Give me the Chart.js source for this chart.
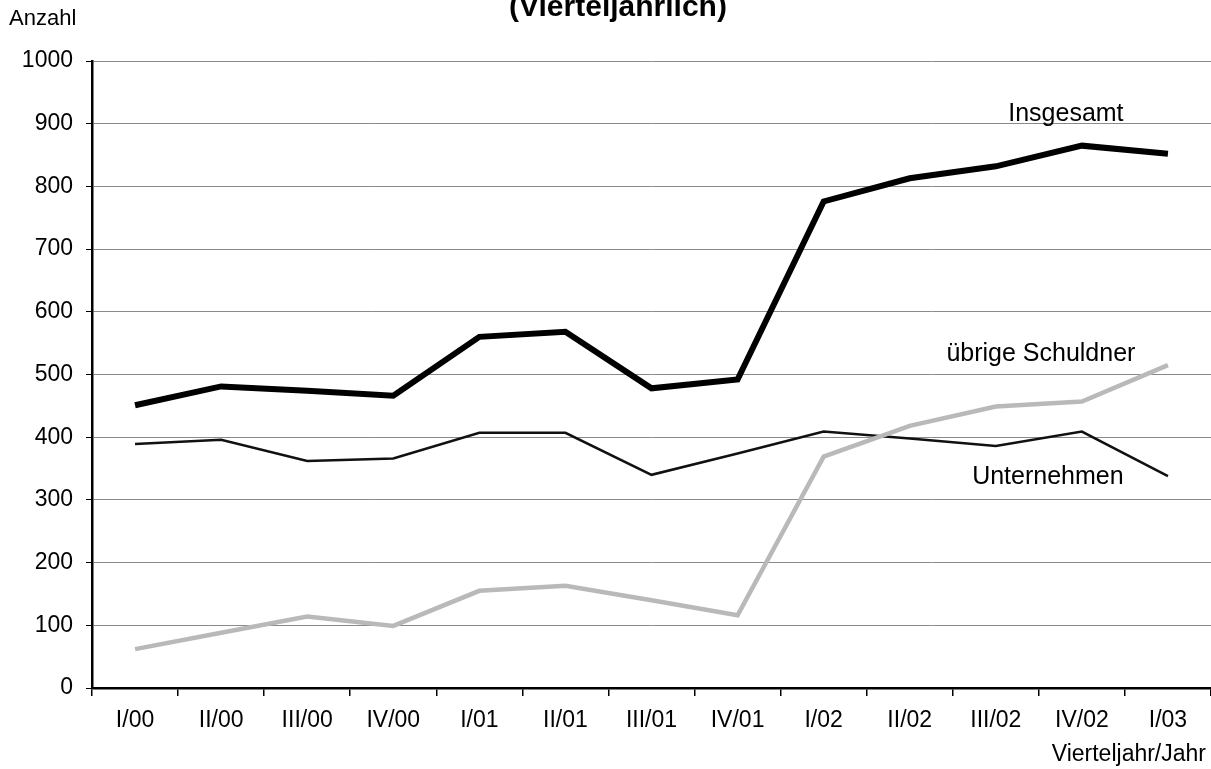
<!DOCTYPE html>
<html>
<head>
<meta charset="utf-8">
<script src="https://cdn.jsdelivr.net/npm/chart.js@4.4.1/dist/chart.umd.min.js"></script>
<style>
	html, body { margin: 0; padding: 0; background: #fff; overflow: hidden; }
	canvas { display: block; }
</style>
</head>
<body>
<canvas id="chart" width="1211" height="769"></canvas>
<script>
// Quartale
const quartale = ['I/00', 'II/00', 'III/00', 'IV/00', 'I/01', 'II/01', 'III/01', 'IV/01', 'I/02', 'II/02', 'III/02', 'IV/02', 'I/03'];

// Anzahl je Quartal
const insgesamt = [451, 481, 474, 466, 560, 568, 478, 492, 776, 813, 832, 865, 852];
const unternehmen = [389, 396, 362, 366, 407, 407, 340, 374, 409, 398, 386, 409, 338];
const uebrigeSchuldner = [62, 88, 114, 99, 155, 163, 140, 116, 369, 418, 449, 457, 515];

const yTicks = [0, 100, 200, 300, 400, 500, 600, 700, 800, 900, 1000];

const FONT = 'Arial, "Liberation Sans", sans-serif';

// Texte (Titel, Achsentitel, Reihenbeschriftungen) direkt auf das Canvas schreiben
const textPlugin = {
	id: 'texte',
	afterDraw(chart) {
		const ctx = chart.ctx;
		const x = chart.scales.x;
		const y = chart.scales.y;
		ctx.save();
		ctx.fillStyle = '#000';

		// Titel (oben abgeschnitten)
		ctx.font = 'bold 30px ' + FONT;
		ctx.textAlign = 'center';
		ctx.textBaseline = 'alphabetic';
		ctx.fillText('(Vierteljährlich)', 618, 16);

		ctx.font = '22px ' + FONT;
		ctx.textAlign = 'left';
		ctx.fillText('Anzahl', 9, 25);

		ctx.font = '23px ' + FONT;
		ctx.textAlign = 'right';
		ctx.textBaseline = 'middle';
		ctx.fillText('Vierteljahr/Jahr', 1206, 755);

		// Reihenbeschriftungen
		ctx.font = '25px ' + FONT;
		ctx.textAlign = 'center';
		ctx.fillText('Insgesamt', x.getPixelForValue(11) - 16, y.getPixelForValue(915));
		ctx.fillText('übrige Schuldner', x.getPixelForValue(11) - 41, y.getPixelForValue(532));
		ctx.fillText('Unternehmen', x.getPixelForValue(11) - 34, y.getPixelForValue(337));
		ctx.restore();
	}
};

const ctx = document.getElementById('chart').getContext('2d');
new Chart(ctx, {
	type: 'line',
	data: {
		labels: quartale,
		datasets: [
			{
				label: 'übrige Schuldner',
				data: uebrigeSchuldner,
				borderColor: '#b9b9b9',
				borderWidth: 4.5,
				pointRadius: 0,
				tension: 0
			},
			{
				label: 'Unternehmen',
				data: unternehmen,
				borderColor: '#111',
				borderWidth: 2.5,
				pointRadius: 0,
				tension: 0
			},
			{
				label: 'Insgesamt',
				data: insgesamt,
				borderColor: '#000',
				borderWidth: 6,
				pointRadius: 0,
				tension: 0
			}
		]
	},
	options: {
		responsive: false,
		animation: false,
		layout: { padding: { top: 61, right: 0, left: 0, bottom: 0 } },
		plugins: {
			legend: { display: false },
			title: { display: false },
			tooltip: { enabled: false }
		},
		scales: {
			x: {
				offset: true,
				grid: {
					offset: true,
					drawOnChartArea: false,
					drawTicks: true,
					tickLength: 8,
					color: '#000',
					lineWidth: 1.5
				},
				border: { color: '#000', width: 2.5 },
				ticks: {
					font: { family: FONT, size: 23 },
					color: '#000',
					padding: 11,
					maxRotation: 0,
					autoSkip: false
				},
				afterFit(scale) { scale.height = 81; }
			},
			y: {
				min: 0,
				max: 1000,
				afterBuildTicks(scale) {
					scale.ticks = yTicks.map(v => ({ value: v }));
				},
				grid: {
					color: '#8a8a8a',
					lineWidth: 1,
					drawTicks: true,
					tickLength: 6,
					tickColor: '#000'
				},
				border: { color: '#000', width: 2.5 },
				ticks: {
					font: { family: FONT, size: 23 },
					color: '#000',
					padding: 13,
					callback: v => String(v)
				},
				afterFit(scale) { scale.width = 92; }
			}
		}
	},
	plugins: [textPlugin]
});
</script>
</body>
</html>
